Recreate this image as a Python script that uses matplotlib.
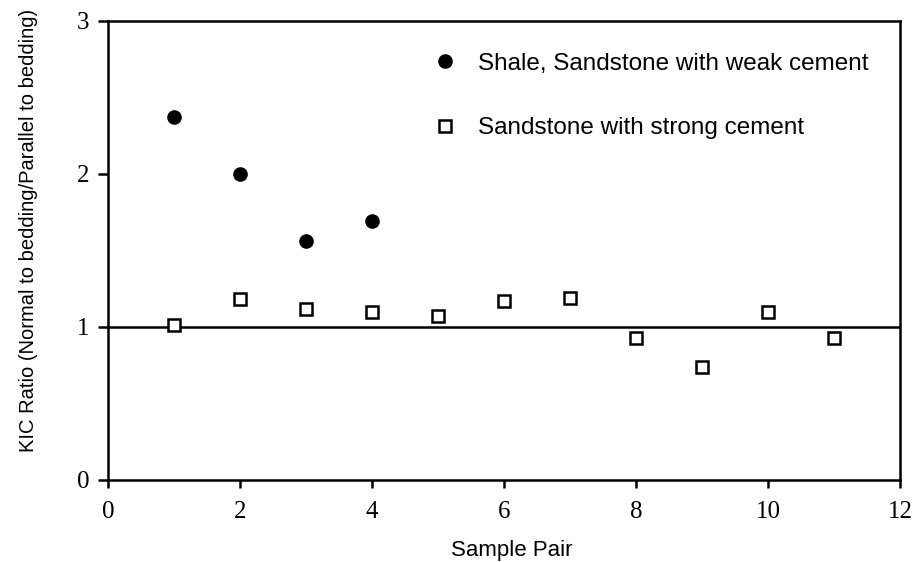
import matplotlib.pyplot as plt

# sample pairs and KIC ratios
weak_pairs = [1, 2, 3, 4]
weak_ratio = [2.37, 2.00, 1.56, 1.69]

strong_pairs = [1, 2, 3, 4, 5, 6, 7, 8, 9, 10, 11]
strong_ratio = [1.01, 1.18, 1.12, 1.10, 1.07, 1.17, 1.19, 0.93, 0.74, 1.10, 0.93]

x_ticks = [0, 2, 4, 6, 8, 10, 12]
y_ticks = [0, 1, 2, 3]

fig = plt.figure(figsize=(9.16, 5.62), dpi=100)
ax = fig.add_axes([0.118, 0.146, 0.865, 0.817])

ax.plot(weak_pairs, weak_ratio, 'o', color='black', markersize=9.5,
        label='Shale, Sandstone with weak cement')
ax.plot(strong_pairs, strong_ratio, 's', markerfacecolor='white',
        markeredgecolor='black', markeredgewidth=1.8, markersize=8.5,
        label='Sandstone with strong cement')

# reference line at ratio 1
ax.axhline(1, color='black', linewidth=1.8, zorder=1)

ax.set_xlim(0, 12)
ax.set_ylim(0, 3)
ax.set_xticks(x_ticks)
ax.set_yticks(y_ticks)
for spine in ax.spines.values():
    spine.set_linewidth(1.8)
ax.tick_params(direction='out', width=1.8, labelsize=18)
ax.tick_params(axis='x', length=6, pad=9)
ax.tick_params(axis='y', length=7.5, pad=6)
for lab in ax.get_xticklabels() + ax.get_yticklabels():
    lab.set_family('Liberation Serif')

ax.set_xlabel('Sample Pair', fontsize=16, family='Liberation Sans')
ax.xaxis.set_label_coords(0.51, -0.131)
ax.set_ylabel('KIC Ratio (Normal to bedding/Parallel to bedding)', fontsize=14.5,
              family='Liberation Sans')
ax.yaxis.set_label_coords(-0.088, 0.5425)

ax.legend(loc='upper left', bbox_to_anchor=(0.4066, 0.930), frameon=False,
          prop={'family': 'Liberation Sans', 'size': 17.5}, labelspacing=1.75,
          handletextpad=0.75, handlelength=1.2, borderpad=0, borderaxespad=0)

fig.savefig('out.png', dpi=100)
